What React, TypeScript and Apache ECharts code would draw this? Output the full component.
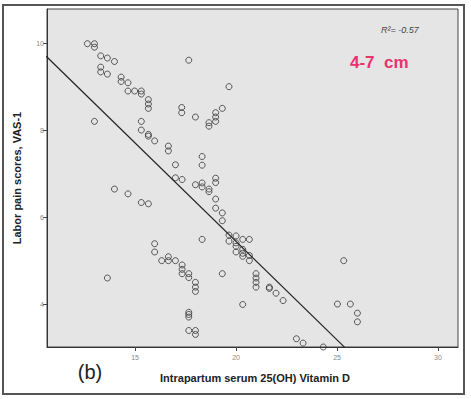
import React, { useEffect, useRef } from "react";
import * as echarts from "echarts";

const xVals = [
  12.64, 12.99, 12.99, 13.3, 13.63, 13.98, 13.3, 13.3, 13.63, 14.31, 14.31, 14.65, 14.65, 14.98, 15.31, 15.31,
  15.66, 15.66, 15.66, 12.99, 15.31, 15.31, 15.66, 15.66, 15.97, 16.65, 16.65, 17.0, 17.0, 17.33, 17.31, 17.31,
  17.66, 17.99, 18.66, 18.66, 18.99, 18.99, 18.99, 19.32, 19.65, 18.32, 18.32, 17.99, 18.32, 18.32, 18.66, 18.66,
  18.99, 18.99, 18.99, 18.99, 19.32, 19.32, 13.98, 14.65, 15.31, 15.66, 13.63, 15.97, 15.97, 16.32, 16.65, 16.65,
  17.0, 17.33, 17.33, 17.33, 17.66, 17.66, 17.99, 17.99, 17.99, 17.66, 17.66, 17.66, 17.66, 17.99, 17.99, 18.32,
  19.32, 19.65, 19.65, 20.0, 20.0, 20.0, 20.0, 20.33, 20.33, 20.33, 20.33, 20.66, 20.66, 20.66, 20.99, 20.99,
  20.99, 20.99, 21.65, 21.65, 21.98, 22.33, 20.33, 22.99, 23.32, 24.32, 25.02, 25.33, 25.66, 26.01, 26.01,
];
const yVals = [
  10.0, 10.0, 9.92, 9.72, 9.67, 9.59, 9.46, 9.35, 9.3, 9.23, 9.13, 9.1, 8.91, 8.91, 8.91, 8.84,
  8.71, 8.61, 8.51, 8.21, 8.21, 8.01, 7.91, 7.87, 7.76, 7.64, 7.53, 7.21, 6.91, 6.87, 8.53, 8.41,
  9.62, 8.31, 8.18, 8.1, 8.41, 8.31, 8.21, 8.51, 9.01, 7.4, 7.2, 6.75, 6.79, 6.7, 6.65, 6.59,
  6.9, 6.8, 6.42, 6.21, 6.1, 5.92, 6.65, 6.54, 6.34, 6.31, 4.6, 5.39, 5.2, 5.0, 5.09, 5.0,
  5.0, 4.9, 4.8, 4.7, 4.7, 4.61, 4.5, 4.39, 4.29, 3.81, 3.76, 3.7, 3.39, 3.39, 3.3, 5.49,
  4.7, 5.59, 5.45, 5.57, 5.41, 5.33, 5.2, 5.49, 5.26, 5.17, 5.1, 5.49, 5.12, 5.0, 4.7, 4.6,
  4.5, 4.39, 4.39, 4.36, 4.25, 4.08, 3.99, 3.2, 3.1, 3.01, 4.0, 5.0, 4.0, 3.79, 3.59,
];
const fitX = [10.6, 25.38];
const fitY = [9.71, 3.0];
const xTicks = [15, 20, 25, 30];
const yTicks = [4, 6, 8, 10];

export default function App() {
  const ref = useRef<HTMLDivElement>(null);
  useEffect(() => {
    if (!ref.current) return;
    const chart = echarts.init(ref.current, null, { renderer: "svg" });
    const font = "Liberation Sans, Arial, sans-serif";
    chart.setOption({
      animation: false,
      backgroundColor: "#ffffff",
      grid: {
        left: 47,
        right: 13,
        top: 9,
        bottom: 52,
        show: true,
        backgroundColor: "#e5e5e5",
        borderColor: "#444",
        borderWidth: 1,
      },
      xAxis: {
        type: "value",
        min: 10.64,
        max: 30.99,
        splitLine: { show: false },
        axisLine: { show: true, lineStyle: { color: "#333", width: 1 } },
        axisTick: { show: true, length: 4, customValues: xTicks, lineStyle: { color: "#444" } },
        axisLabel: {
          customValues: xTicks,
          fontSize: 7,
          color: "#888",
          margin: 7,
          fontFamily: font,
        },
      },
      yAxis: {
        type: "value",
        min: 3.01,
        max: 10.8,
        splitLine: { show: false },
        axisLine: { show: true, lineStyle: { color: "#333", width: 1 } },
        axisTick: { show: true, length: 4, customValues: yTicks, lineStyle: { color: "#444" } },
        axisLabel: {
          customValues: yTicks,
          fontSize: 7,
          color: "#888",
          margin: 3,
          fontFamily: font,
        },
      },
      series: [
        {
          type: "scatter",
          data: xVals.map((x, i) => [x, yVals[i]]),
          symbol: "circle",
          symbolSize: 6,
          itemStyle: { color: "rgba(0,0,0,0)", borderColor: "#333", borderWidth: 1 },
          z: 3,
        },
        {
          type: "line",
          data: fitX.map((x, i) => [x, fitY[i]]),
          symbol: "none",
          lineStyle: { color: "#222", width: 1.2 },
          z: 2,
        },
      ],
      graphic: [
        {
          type: "rect",
          shape: { x: 3, y: 5, width: 461, height: 389 },
          style: { fill: "none", stroke: "#555", lineWidth: 2 },
          silent: true,
        },
        {
          type: "text",
          x: 17,
          y: 178,
          rotation: Math.PI / 2,
          style: {
            text: "Labor pain scores, VAS-1",
            font: `bold 11px ${font}`,
            fill: "#222",
            align: "center",
            verticalAlign: "middle",
          },
        },
        {
          type: "text",
          x: 255,
          y: 378,
          style: {
            text: "Intrapartum serum 25(OH) Vitamin D",
            font: `bold 11px ${font}`,
            fill: "#222",
            align: "center",
            verticalAlign: "middle",
          },
        },
        {
          type: "text",
          x: 90,
          y: 372,
          style: {
            text: "(b)",
            font: `20px ${font}`,
            fill: "#222",
            align: "center",
            verticalAlign: "middle",
          },
        },
        {
          type: "text",
          x: 381,
          y: 30,
          style: {
            text: "R²= -0.57",
            font: `italic 9px ${font}`,
            fill: "#444",
            align: "left",
            verticalAlign: "middle",
          },
        },
        {
          type: "text",
          x: 350,
          y: 62,
          style: {
            text: "4-7  cm",
            font: `bold 17px ${font}`,
            fill: "#e8336d",
            align: "left",
            verticalAlign: "middle",
          },
        },
      ],
    });
    return () => chart.dispose();
  }, []);
  return (
    <div
      ref={ref}
      style={{ position: "fixed", left: 0, top: 0, width: 471, height: 399 }}
    />
  );
}
